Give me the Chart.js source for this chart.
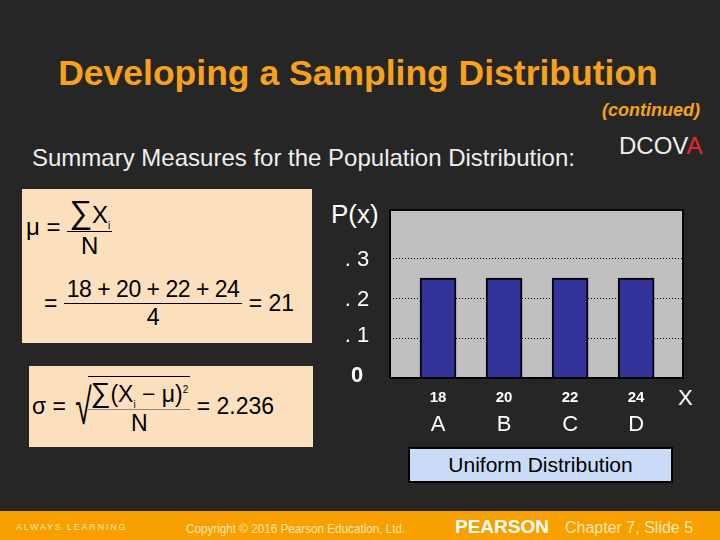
<!DOCTYPE html>
<html><head><meta charset="utf-8">
<script src="https://cdn.jsdelivr.net/npm/chart.js@4"></script>
<style>
body{margin:0;width:720px;height:540px;background:#262626;position:relative;overflow:hidden;font-family:Arial,"Liberation Sans",sans-serif;color:#fff}
.a{position:absolute;white-space:nowrap}
#cv{position:absolute;left:0;top:0}
.box{position:absolute;background:#fce0bd;color:#000}
.frac{display:inline-block;vertical-align:middle;text-align:center}
.frac .n{border-bottom:1.5px solid #000;padding:0 2px}
</style></head><body>
<div class="a" style="left:0;width:716px;top:53px;text-align:center;font-size:35.5px;font-weight:bold;color:#f7a21b">Developing a Sampling Distribution</div>
<div class="a" style="right:20px;top:100px;font-size:18px;font-weight:bold;font-style:italic;color:#f7a21b">(continued)</div>
<div class="a" style="left:32px;top:144px;font-size:24px;color:#eee">Summary Measures for the Population Distribution:</div>
<div class="a" style="left:619px;top:132px;font-size:24px;color:#eee">DCOV<span style="color:#e8262d">A</span></div>
<div class="box" style="left:22px;top:189px;width:290px;height:154px"></div>
<div class="a" style="left:26px;top:189px;color:#000;font-size:24px;height:76px;display:flex;align-items:center">μ =&nbsp;<span class="frac"><div class="n"><span style="font-size:32px">∑</span>X<sub style="font-size:10px">i</sub></div><div>N</div></span></div>
<div class="a" style="left:44px;top:276px;color:#000;font-size:23px;display:flex;align-items:center">=&nbsp;<span class="frac"><div class="n" style="padding:0 3px;letter-spacing:-0.5px">18 + 20 + 22 + 24</div><div>4</div></span>&nbsp;= 21</div>
<div class="box" style="left:29px;top:366px;width:284px;height:81px"></div>
<div class="a" style="left:32px;top:366px;height:81px;color:#000;font-size:23px;display:flex;align-items:center">σ =&nbsp;<span style="font-size:50px;font-weight:100;transform:scaleX(0.6);display:inline-block;width:16px">√</span><span class="frac" style="border-top:1.5px solid #000"><div class="n" style="border-bottom-color:#888"><span style="font-size:28px">∑</span>(X<sub style="font-size:10px">i</sub> − μ)<sup style="font-size:10px">2</sup></div><div>N</div></span>&nbsp;= 2.236</div>
<div class="a" style="left:331px;top:199px;font-size:26px">P(x)</div>
<div class="a" style="left:678px;top:385px;font-size:22px">X</div>
<div class="a" style="left:408px;top:447px;width:261px;height:32px;background:#c9dbf6;border:2px solid #000;color:#000;font-size:21px;text-align:center;line-height:32px">Uniform Distribution</div>
<div class="a" style="left:0;top:511px;width:720px;height:29px;background:#f8a000"></div>
<div class="a" style="left:16px;top:522px;font-size:9px;letter-spacing:1.8px;color:#fde6b8">ALWAYS LEARNING</div>
<div class="a" style="left:186px;top:521px;font-size:13px;color:#fde6b8;transform:scaleX(0.9);transform-origin:left">Copyright © 2016 Pearson Education, Ltd.</div>
<div class="a" style="left:455px;top:516px;font-size:19px;font-weight:bold;color:#fff">PEARSON</div>
<div class="a" style="left:565px;top:519px;font-size:16px;color:#fde6b8">Chapter 7, Slide 5</div>
<canvas id="cv" width="720" height="540"></canvas>
<script>
const xValues=[18,20,22,24];
const letters=['A','B','C','D'];
const probs=[0.25,0.25,0.25,0.25];
const yTicks=[0,0.1,0.2,0.3];
const yTickLabels=['0','. 1','. 2','. 3'];
const deco={id:'deco',
 beforeDraw(c){const a=c.chartArea,x=c.ctx;x.save();x.fillStyle='#c0c0c0';x.fillRect(a.left,a.top,a.right-a.left,a.bottom-a.top);x.restore();},
 afterDraw(c){const a=c.chartArea,x=c.ctx,xs=c.scales.x,ys=c.scales.y;x.save();
  x.strokeStyle='#000';x.lineWidth=2;x.strokeRect(a.left,a.top,a.right-a.left,a.bottom-a.top);
  x.fillStyle='#fff';x.textAlign='center';x.textBaseline='middle';
  const off={0:-2,0.1:-2,0.2:2,0.3:2};
  yTicks.forEach((v,i)=>{x.font=(i?'':'bold ')+'22px Arial';x.fillText(yTickLabels[i],357,ys.getPixelForValue(v)+off[v]);});
  xValues.forEach((v,i)=>{const px=xs.getPixelForValue(v);x.font='bold 15px Arial';x.fillText(String(v),px,398);x.font='22px Arial';x.fillText(letters[i],px,425);});
  x.restore();}};
new Chart(document.getElementById('cv'),{type:'bar',
 data:{datasets:[{data:xValues.map((v,i)=>({x:v,y:probs[i]})),backgroundColor:'#333399',borderColor:'#000',borderWidth:2,barThickness:36}]},
 options:{responsive:false,animation:false,layout:{padding:{left:390,right:37,top:210,bottom:162}},
  plugins:{legend:{display:false},tooltip:{enabled:false}},
  scales:{x:{type:'linear',offset:false,min:16.545,max:25.42,display:false},
   y:{min:0,max:0.42,afterBuildTicks:s=>{s.ticks=yTicks.map(v=>({value:v}));},
    ticks:{display:false},border:{display:false,dash:[1,2]},
    grid:{color:'#000',lineWidth:1,drawTicks:false}}}},
 plugins:[deco]});
</script></body></html>
